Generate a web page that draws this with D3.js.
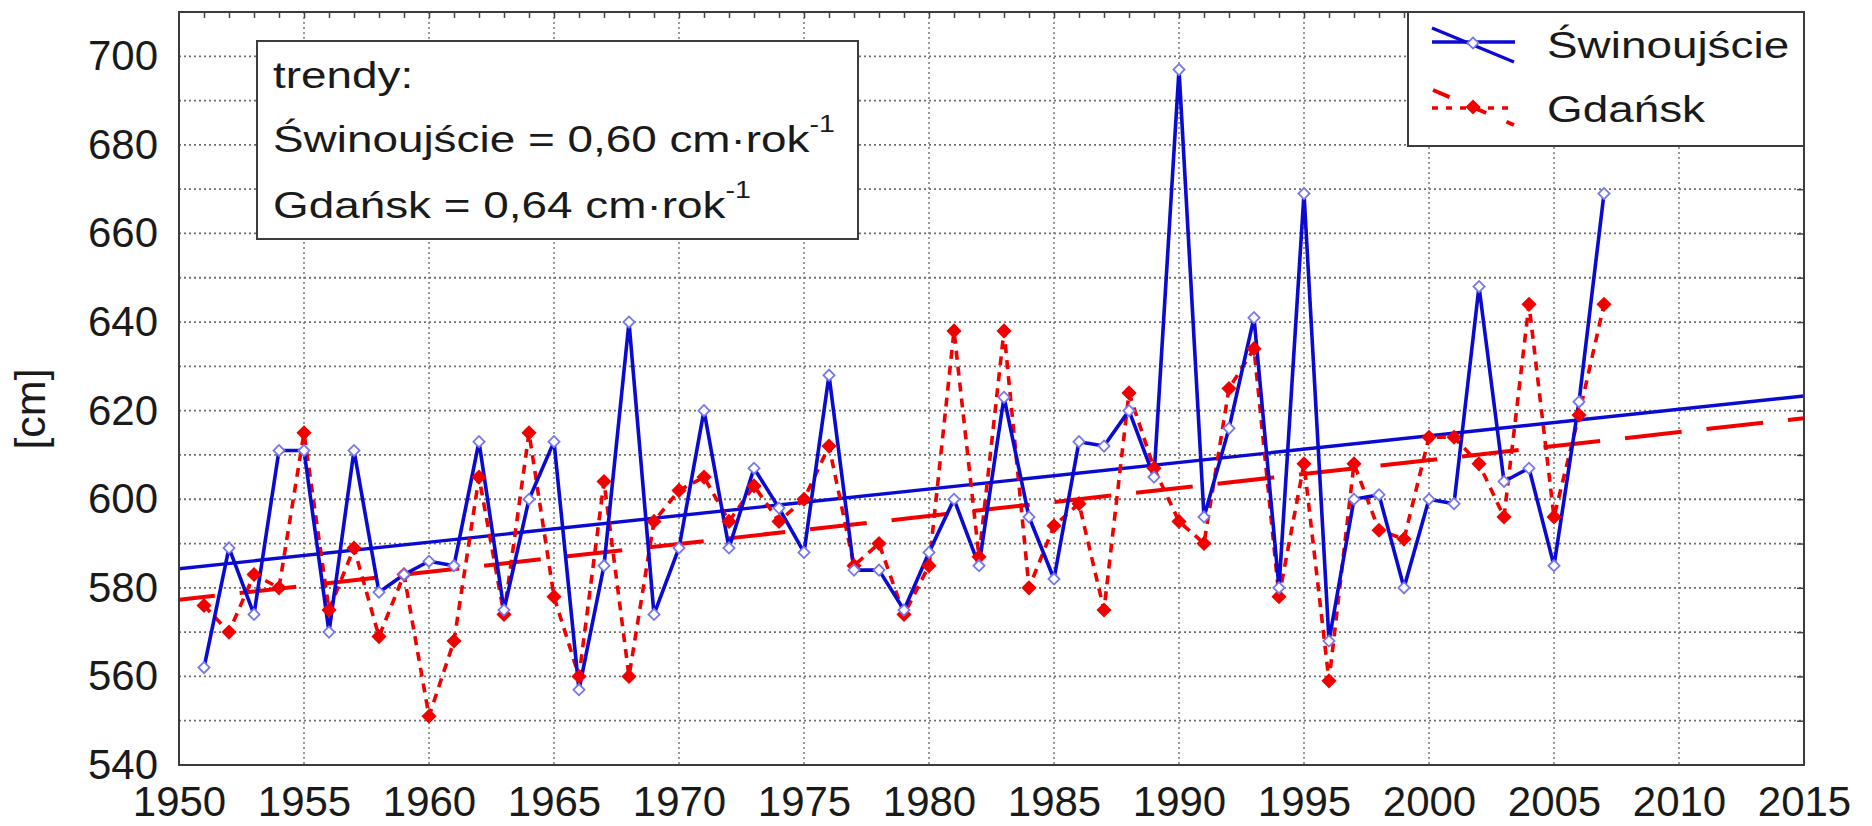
<!DOCTYPE html>
<html>
<head>
<meta charset="utf-8">
<script src="https://cdn.jsdelivr.net/npm/d3@7"></script>
<style>
  body { margin: 0; background: #fff; }
  svg { display: block; font-family: "Liberation Sans", Arial, sans-serif; }
</style>
</head>
<body>
<div id="chart"></div>
<script>
// values, yearly maxima [cm]
const years = [1951, 1952, 1953, 1954, 1955, 1956, 1957, 1958, 1959, 1960,
               1961, 1962, 1963, 1964, 1965, 1966, 1967, 1968, 1969, 1970,
               1971, 1972, 1973, 1974, 1975, 1976, 1977, 1978, 1979, 1980,
               1981, 1982, 1983, 1984, 1985, 1986, 1987, 1988, 1989, 1990,
               1991, 1992, 1993, 1994, 1995, 1996, 1997, 1998, 1999, 2000,
               2001, 2002, 2003, 2004, 2005, 2006, 2007];
const swinoujscie = [562, 589, 574, 611, 611, 570, 611, 579, 583, 586,
                     585, 613, 575, 600, 613, 557, 585, 640, 574, 589,
                     620, 589, 607, 598, 588, 628, 584, 584, 575, 588,
                     600, 585, 623, 596, 582, 613, 612, 620, 605, 697,
                     596, 616, 641, 580, 669, 568, 600, 601, 580, 600,
                     599, 648, 604, 607, 585, 622, 669];
const gdansk = [576, 570, 583, 580, 615, 575, 589, 569, 583, 551,
                568, 605, 574, 615, 578, 560, 604, 560, 595, 602,
                605, 595, 603, 595, 600, 612, 585, 590, 574, 585,
                638, 587, 638, 580, 594, 599, 575, 624, 607, 595,
                590, 625, 634, 578, 608, 559, 608, 593, 591, 614,
                614, 608, 596, 644, 596, 619, 644];

// linear trends (end points)
const trendYears = [1950, 2015];
const swTrend = [584.3, 623.3];
const gdTrend = [577.3, 618.3];

const xTicks = [1950, 1955, 1960, 1965, 1970, 1975, 1980, 1985, 1990, 1995, 2000, 2005, 2010, 2015];
const yTicks = [540, 560, 580, 600, 620, 640, 660, 680, 700];
const seriesNames = ["Świnoujście", "Gdańsk"];
const trendTitle = "trendy:";
const trendText = ["Świnoujście = 0,60 cm·rok", "Gdańsk = 0,64 cm·rok"];
const yLabel = "[cm]";

const width = 1872, height = 826;
const plot = { left: 179, right: 1804, top: 12, bottom: 765 };
const blue = "#0a0ad2", red = "#f20000", markerBlue = "#7777ee";
const stretch = 1.24; // box/legend text is drawn wider than normal

const svg = d3.select("#chart").append("svg")
    .attr("width", width)
    .attr("height", height);

const x = d3.scaleLinear().domain([1950, 2015]).range([plot.left, plot.right]);
const y = d3.scaleLinear().domain([540, 710]).range([plot.bottom, plot.top]);

// dotted grid
svg.append("g").selectAll("line")
    .data(d3.range(550, 710, 10))
    .enter().append("line")
    .attr("x1", plot.left).attr("x2", plot.right)
    .attr("y1", d => y(d)).attr("y2", d => y(d))
    .attr("stroke", "#6f6f6f").attr("stroke-width", 1.8)
    .attr("stroke-dasharray", "2,3");

svg.append("g").selectAll("line")
    .data(xTicks.slice(1, -1))
    .enter().append("line")
    .attr("x1", d => x(d)).attr("x2", d => x(d))
    .attr("y1", plot.top).attr("y2", plot.bottom)
    .attr("stroke", "#7a7a7a").attr("stroke-width", 1.5)
    .attr("stroke-dasharray", "2,3");

// small inside ticks on top and right
const topAxis = svg.append("g")
    .attr("transform", `translate(0,${plot.top})`)
    .call(d3.axisTop(x).tickValues(d3.range(1951, 2015)).tickSize(-6).tickFormat(""));
const rightAxis = svg.append("g")
    .attr("transform", `translate(${plot.right},0)`)
    .call(d3.axisRight(y).tickValues(d3.range(550, 710, 10)).tickSize(-7).tickFormat(""));
[topAxis, rightAxis].forEach(a => {
    a.select(".domain").remove();
    a.selectAll("line").attr("stroke", "#444").attr("stroke-width", 1.5);
});

// tick labels
const leftAxis = svg.append("g")
    .attr("transform", `translate(${plot.left},0)`)
    .call(d3.axisLeft(y).tickValues(yTicks).tickSize(0).tickPadding(21));
const bottomAxis = svg.append("g")
    .attr("transform", `translate(0,${plot.bottom})`)
    .call(d3.axisBottom(x).tickValues(xTicks).tickSize(0).tickPadding(21).tickFormat(d3.format("d")));
[leftAxis, bottomAxis].forEach(a => {
    a.select(".domain").remove();
    a.selectAll("text")
        .attr("fill", "#1a1a1a")
        .style("font-size", "42px")
        .style("font-family", "'Liberation Sans', Arial, sans-serif");
});

svg.append("text")
    .attr("transform", "translate(45,409) rotate(-90)")
    .attr("text-anchor", "middle")
    .attr("fill", "#1a1a1a")
    .style("font-size", "43px")
    .text(yLabel);

// data
svg.append("clipPath").attr("id", "plotClip")
    .append("rect")
    .attr("x", plot.left).attr("y", plot.top)
    .attr("width", plot.right - plot.left).attr("height", plot.bottom - plot.top);

const layer = svg.append("g").attr("clip-path", "url(#plotClip)");

const swData = years.map((yr, i) => ({ year: yr, v: swinoujscie[i] }));
const gdData = years.map((yr, i) => ({ year: yr, v: gdansk[i] }));
const swTrendData = trendYears.map((yr, i) => ({ year: yr, v: swTrend[i] }));
const gdTrendData = trendYears.map((yr, i) => ({ year: yr, v: gdTrend[i] }));

const line = d3.line().x(d => x(d.year)).y(d => y(d.v));

layer.append("path").datum(gdTrendData)
    .attr("d", line).attr("fill", "none")
    .attr("stroke", red).attr("stroke-width", 4)
    .attr("stroke-dasharray", "57,25").attr("stroke-dashoffset", 21);

layer.append("path").datum(swTrendData)
    .attr("d", line).attr("fill", "none")
    .attr("stroke", blue).attr("stroke-width", 3.4);

layer.append("path").datum(gdData)
    .attr("d", line).attr("fill", "none")
    .attr("stroke", red).attr("stroke-width", 3.6)
    .attr("stroke-dasharray", "9,7");

layer.append("path").datum(swData)
    .attr("d", line).attr("fill", "none")
    .attr("stroke", blue).attr("stroke-width", 3.6)
    .attr("stroke-linejoin", "round");

const diamond = d3.symbol().type(d3.symbolSquare);

layer.selectAll(".gd-dot")
    .data(gdData)
    .enter().append("path")
    .attr("class", "gd-dot")
    .attr("d", diamond.size(115)())
    .attr("transform", d => `translate(${x(d.year)},${y(d.v)}) rotate(45)`)
    .attr("fill", red);

layer.selectAll(".sw-dot")
    .data(swData)
    .enter().append("path")
    .attr("class", "sw-dot")
    .attr("d", diamond.size(62)())
    .attr("transform", d => `translate(${x(d.year)},${y(d.v)}) rotate(45)`)
    .attr("fill", "#fff")
    .attr("stroke", markerBlue)
    .attr("stroke-width", 1.8);

// frame
svg.append("rect")
    .attr("x", plot.left).attr("y", plot.top)
    .attr("width", plot.right - plot.left).attr("height", plot.bottom - plot.top)
    .attr("fill", "none").attr("stroke", "#3c3c3c").attr("stroke-width", 2);

// stretched text helper
function boxText(g, tx, ty, str, sup, supDy) {
    const t = g.append("text")
        .attr("transform", `translate(${tx},${ty}) scale(${stretch},1)`)
        .attr("fill", "#1a1a1a")
        .style("font-size", "37px")
        .text(str);
    if (sup) {
        t.append("tspan")
            .attr("dy", supDy)
            .style("font-size", "23px")
            .text(sup);
    }
    return t;
}

// trend box
const tbox = svg.append("g");
tbox.append("rect")
    .attr("x", 257).attr("y", 41).attr("width", 601).attr("height", 198)
    .attr("fill", "#fff").attr("stroke", "#3c3c3c").attr("stroke-width", 2);
boxText(tbox, 273, 88, trendTitle);
boxText(tbox, 273, 152, trendText[0], "-1", -20);
boxText(tbox, 273, 218, trendText[1], "-1", -20);

// legend
const legend = svg.append("g");
legend.append("rect")
    .attr("x", 1408).attr("y", plot.top).attr("width", plot.right - 1408).attr("height", 134)
    .attr("fill", "#fff").attr("stroke", "#3c3c3c").attr("stroke-width", 2);

// Świnoujście sample
legend.append("line")
    .attr("x1", 1432).attr("x2", 1515).attr("y1", 42).attr("y2", 42)
    .attr("stroke", blue).attr("stroke-width", 3.4);
legend.append("line")
    .attr("x1", 1432).attr("x2", 1514).attr("y1", 28).attr("y2", 62)
    .attr("stroke", blue).attr("stroke-width", 3.4);
legend.append("path")
    .attr("d", diamond.size(62)())
    .attr("transform", "translate(1473,43) rotate(45)")
    .attr("fill", "#fff").attr("stroke", markerBlue).attr("stroke-width", 1.8);

// Gdańsk sample
legend.append("line")
    .attr("x1", 1433).attr("x2", 1514).attr("y1", 90).attr("y2", 125)
    .attr("stroke", red).attr("stroke-width", 4)
    .attr("stroke-dasharray", "18,22");
legend.append("line")
    .attr("x1", 1432).attr("x2", 1515).attr("y1", 108).attr("y2", 108)
    .attr("stroke", red).attr("stroke-width", 3.4)
    .attr("stroke-dasharray", "6,8");
legend.append("path")
    .attr("d", diamond.size(115)())
    .attr("transform", "translate(1473,107) rotate(45)")
    .attr("fill", red);

boxText(legend, 1547, 58, seriesNames[0]);
boxText(legend, 1547, 122, seriesNames[1]);
</script>
</body>
</html>
